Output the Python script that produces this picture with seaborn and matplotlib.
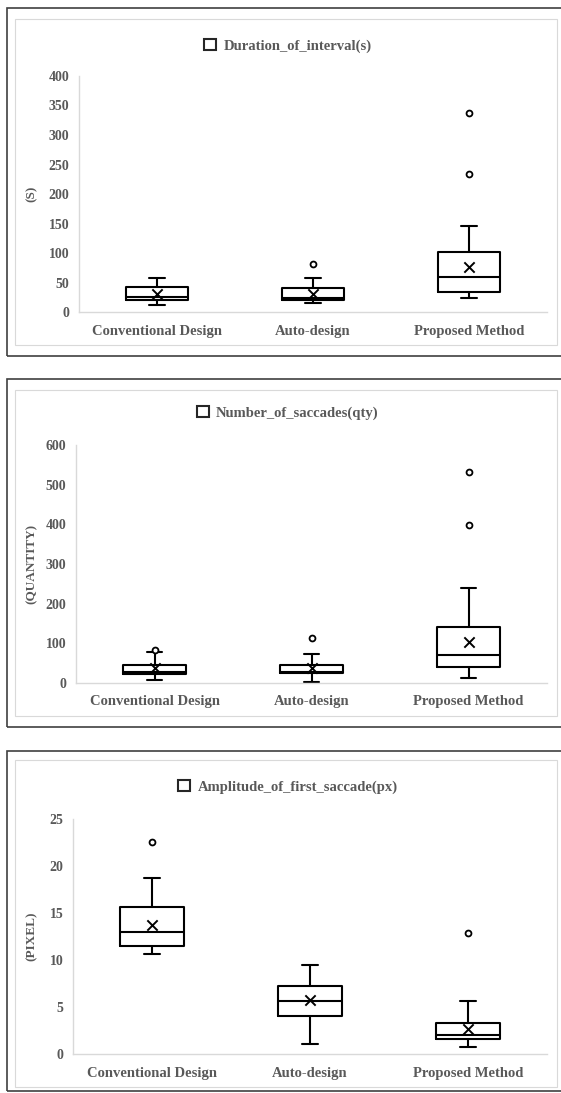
import numpy as np
import pandas as pd
import seaborn as sns
import matplotlib.pyplot as plt
from matplotlib.patches import Patch, Rectangle

# categories shared by the three panels
groups = ["Conventional Design", "Auto-design", "Proposed Method"]

# Duration_of_interval(s)
dur_lo = [12, 16, 24]
dur_q1 = [20.5, 20.5, 34]
dur_med = [25, 23, 59]
dur_q3 = [43, 41, 102]
dur_hi = [57, 57, 146]
dur_mean = [30.5, 30.5, 76]
dur_out = [[], [81], [234, 338]]

# Number_of_saccades(qty)
sac_lo = [7, 3, 12]
sac_q1 = [23, 25, 41]
sac_med = [28, 28, 71]
sac_q3 = [45, 46, 140]
sac_hi = [78, 74, 239]
sac_mean = [37, 37, 103]
sac_out = [[84], [113], [398, 532]]

# Amplitude_of_first_saccade(px)
amp_lo = [10.6, 1.1, 0.7]
amp_q1 = [11.5, 4.0, 1.6]
amp_med = [13.0, 5.6, 2.05]
amp_q3 = [15.6, 7.2, 3.3]
amp_hi = [18.7, 9.5, 5.6]
amp_mean = [13.7, 5.7, 2.7]
amp_out = [[22.6], [], [12.9]]

sns.set_theme(style="white")
plt.rcParams['font.family'] = ['Liberation Serif', 'DejaVu Serif']
plt.rcParams['font.weight'] = 'bold'
txt = '#595959'

W, H = 561, 1093
fig = plt.figure(figsize=(W / 100, H / 100), dpi=100)

def fx(x):
    return x / W

def fy(y):
    return 1 - y / H

panels = [
    # title, ylabel, stats, ylim, ticks, px geometry (left, top, bottom), legend y, frame (outer top, outer bottom, inner top, inner bottom)
    ("Duration_of_interval(s)", "(S)",
     (dur_lo, dur_q1, dur_med, dur_q3, dur_hi, dur_mean, dur_out),
     400, np.arange(0, 401, 50), (79, 76, 312), 46, (8, 356, 19, 345)),
    ("Number_of_saccades(qty)", "(QUANTITY)",
     (sac_lo, sac_q1, sac_med, sac_q3, sac_hi, sac_mean, sac_out),
     600, np.arange(0, 601, 100), (76, 445, 683), 413, (379, 727, 390, 716)),
    ("Amplitude_of_first_saccade(px)", "(PIXEL)",
     (amp_lo, amp_q1, amp_med, amp_q3, amp_hi, amp_mean, amp_out),
     25, np.arange(0, 26, 5), (73, 819, 1054), 787, (751, 1091, 760, 1087)),
]

for title, ylab, st, ymax, ticks, (left, top, bottom), leg_y, frame in panels:
    lo, q1, med, q3, hi, mean, out = st
    o_top, o_bot, i_top, i_bot = frame

    # outer dark frame and inner light chart-area frame
    fig.add_artist(Rectangle((fx(7), fy(o_bot)), fx(600 - 7), (o_bot - o_top) / H,
                             transform=fig.transFigure, fill=False,
                             edgecolor='#404040', linewidth=1.2))
    fig.add_artist(Rectangle((fx(15), fy(i_bot)), fx(557 - 15), (i_bot - i_top) / H,
                             transform=fig.transFigure, fill=False,
                             edgecolor='#d9d9d9', linewidth=0.8))

    ax = fig.add_axes([fx(left), fy(bottom), fx(547 - left), (bottom - top) / H])
    pos = np.arange(len(groups))

    stats = [dict(whislo=lo[i], q1=q1[i], med=med[i], q3=q3[i], whishi=hi[i],
                  mean=mean[i], fliers=[]) for i in range(len(groups))]
    line = dict(color='black', linewidth=1.5)
    ax.bxp(stats, positions=pos, widths=0.4, capwidths=0.1, showfliers=False,
           boxprops=line, whiskerprops=line, capprops=line,
           medianprops=line)

    # mean markers
    means_df = pd.DataFrame({'pos': pos, 'value': mean})
    sns.scatterplot(data=means_df, x='pos', y='value', marker='x', s=55,
                    color='black', linewidth=1.4, ax=ax, zorder=5)

    # outliers
    out_df = pd.DataFrame({'pos': [p for p, vals in zip(pos, out) for _ in vals],
                           'value': [v for vals in out for v in vals]})
    if len(out_df):
        sns.scatterplot(data=out_df, x='pos', y='value', marker='o', s=18,
                        facecolor='white', edgecolor='black', linewidth=1.3,
                        ax=ax, zorder=5)

    ax.set_xlim(-0.5, 2.5)
    ax.set_ylim(0, ymax)
    ax.set_yticks(ticks)
    ax.set_yticklabels([str(t) for t in ticks], fontsize=10, color=txt,
                       fontweight='bold')
    ax.set_xticks(pos)
    ax.set_xticklabels(groups, fontsize=10.5, color=txt, fontweight='bold')
    ax.tick_params(axis='y', length=0, pad=7)
    ax.tick_params(axis='x', length=0, pad=9)
    ax.set_xlabel('')
    ax.set_ylabel('')
    for side in ['top', 'right']:
        ax.spines[side].set_visible(False)
    for side in ['left', 'bottom']:
        ax.spines[side].set_color('#d9d9d9')
        ax.spines[side].set_linewidth(1.0)

    fig.text(fx(32), fy((top + bottom) / 2), ylab, rotation=90, ha='center',
             va='center', fontsize=9.5, color=txt, fontweight='bold')

    handle = Patch(facecolor='white', edgecolor='#262626', linewidth=1.5,
                   label=title)
    leg = ax.legend(handles=[handle], loc='center', frameon=False,
                    bbox_to_anchor=(fx(288), fy(leg_y)),
                    bbox_transform=fig.transFigure,
                    handlelength=0.8, handleheight=0.8, handletextpad=0.5,
                    prop=dict(size=10.5, weight='bold'))
    for t in leg.get_texts():
        t.set_color(txt)

fig.savefig('out.png', dpi=100)
